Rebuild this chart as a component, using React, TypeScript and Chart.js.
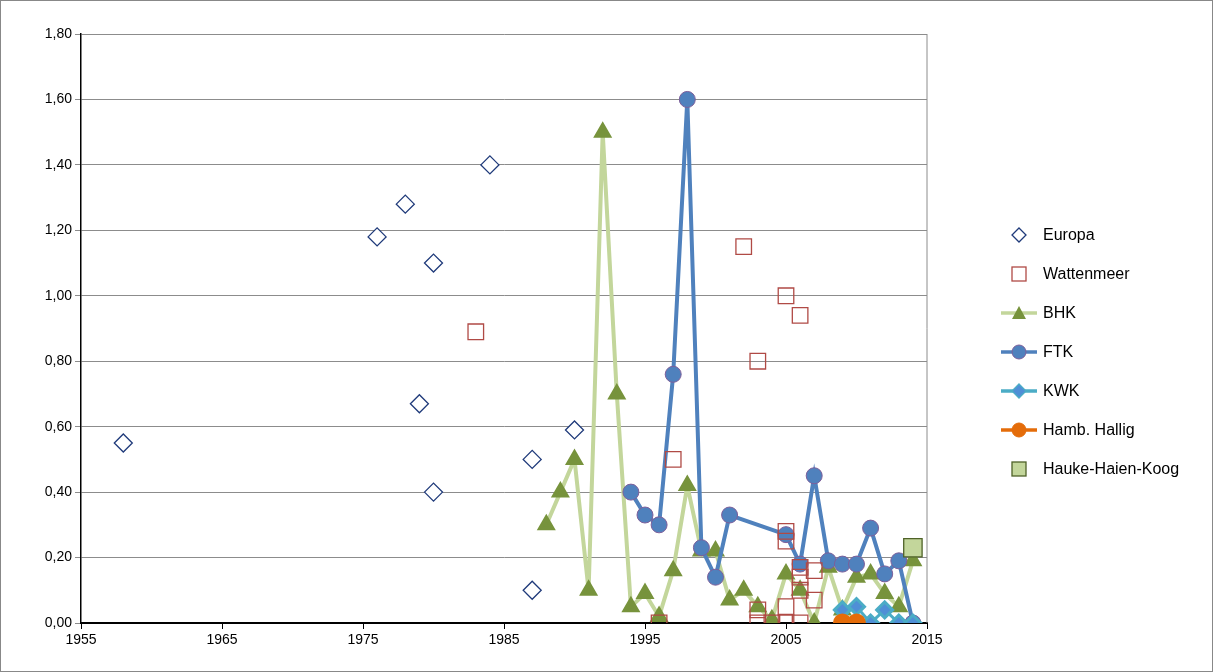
import React, { useEffect, useRef } from "react";
import Chart from "chart.js/auto";

const europaX = [1958, 1976, 1978, 1979, 1980, 1980, 1984, 1987, 1987, 1990];
const europaY = [0.55, 1.18, 1.28, 0.67, 1.1, 0.4, 1.4, 0.5, 0.1, 0.59];

const wattX = [1983, 1996, 1997, 2002, 2003, 2003, 2003, 2004, 2005, 2005, 2005, 2005, 2005, 2006, 2006, 2006, 2006, 2006, 2007, 2007];
const wattY = [0.89, 0.0, 0.5, 1.15, 0.8, 0.04, 0.0, 0.0, 1.0, 0.28, 0.25, 0.05, 0.0, 0.94, 0.17, 0.14, 0.1, 0.0, 0.16, 0.07];

const bhkX = [1988, 1989, 1990, 1991, 1992, 1993, 1994, 1995, 1996, 1997, 1998, 1999, 2000, 2001, 2002, 2003, 2004, 2005, 2006, 2007, 2008, 2009, 2010, 2011, 2012, 2013, 2014];
const bhkY = [0.3, 0.4, 0.5, 0.1, 1.5, 0.7, 0.05, 0.09, 0.02, 0.16, 0.42, 0.22, 0.22, 0.07, 0.1, 0.05, 0.01, 0.15, 0.1, 0.0, 0.17, 0.04, 0.14, 0.15, 0.09, 0.05, 0.19];

const ftkX = [1994, 1995, 1996, 1997, 1998, 1999, 2000, 2001, 2005, 2006, 2007, 2008, 2009, 2010, 2011, 2012, 2013, 2014];
const ftkY = [0.4, 0.33, 0.3, 0.76, 1.6, 0.23, 0.14, 0.33, 0.27, 0.18, 0.45, 0.19, 0.18, 0.18, 0.29, 0.15, 0.19, 0.0];

const kwkX = [2009, 2010, 2011, 2012, 2013, 2014];
const kwkY = [0.04, 0.05, 0.0, 0.04, 0.0, 0.0];

const hambX = [2009, 2010];
const hambY = [0.0, 0.0];

const haukeX = [2014];
const haukeY = [0.23];

const pts = (xs: number[], ys: number[]) => xs.map((x, i) => ({ x, y: ys[i] }));

type LegendItem = { label: string; kind: string; line?: string; fill: string; stroke: string };
const legendItems: LegendItem[] = [
  { label: "Europa", kind: "diamond", fill: "#fff", stroke: "#1f3a7a" },
  { label: "Wattenmeer", kind: "square", fill: "#fff", stroke: "#b04a45" },
  { label: "BHK", kind: "triangle", line: "#c3d69b", fill: "#77933c", stroke: "#77933c" },
  { label: "FTK", kind: "circle", line: "#4f81bd", fill: "#4f81bd", stroke: "#7d5f9a" },
  { label: "KWK", kind: "diamond", line: "#4bacc6", fill: "#4f8fd6", stroke: "#4bacc6" },
  { label: "Hamb. Hallig", kind: "circle", line: "#e46c0a", fill: "#e46c0a", stroke: "#e46c0a" },
  { label: "Hauke-Haien-Koog", kind: "square", fill: "#c3d69b", stroke: "#4f6228" },
];

function Marker({ it }: { it: LegendItem }) {
  const c = 18;
  let shape: React.ReactNode = null;
  if (it.kind === "diamond") shape = <polygon points={`${c},4 ${c + 7},11 ${c},18 ${c - 7},11`} fill={it.fill} stroke={it.stroke} strokeWidth={1.3} />;
  if (it.kind === "square") shape = <rect x={c - 7} y={4} width={14} height={14} fill={it.fill} stroke={it.stroke} strokeWidth={1.3} />;
  if (it.kind === "triangle") shape = <polygon points={`${c},4 ${c + 7},17 ${c - 7},17`} fill={it.fill} />;
  if (it.kind === "circle") shape = <circle cx={c} cy={11} r={7} fill={it.fill} stroke={it.stroke} strokeWidth={1} />;
  return (
    <svg width={36} height={22}>
      {it.line && <line x1={0} y1={11} x2={36} y2={11} stroke={it.line} strokeWidth={3.5} />}
      {shape}
    </svg>
  );
}

export default function App() {
  const ref = useRef<HTMLCanvasElement | null>(null);

  useEffect(() => {
    document.body.style.margin = "0";
    if (!ref.current) return;
    const chart = new Chart(ref.current, {
      type: "scatter",
      data: {
        datasets: [
          { label: "Europa", data: pts(europaX, europaY), pointStyle: "rectRot", pointRadius: 9, backgroundColor: "#fff", borderColor: "#1f3a7a", borderWidth: 1.3, showLine: false },
          { label: "Wattenmeer", data: pts(wattX, wattY), pointStyle: "rect", pointRadius: 11, backgroundColor: "rgba(255,255,255,0)", borderColor: "#b04a45", borderWidth: 1.3, showLine: false },
          { label: "BHK", data: pts(bhkX, bhkY), showLine: true, borderColor: "#c3d69b", borderWidth: 4, pointStyle: "triangle", pointRadius: 7, pointBackgroundColor: "#77933c", pointBorderColor: "#77933c", order: 3 },
          { label: "FTK", data: pts(ftkX, ftkY), showLine: true, borderColor: "#4f81bd", borderWidth: 4, pointStyle: "circle", pointRadius: 8, pointBackgroundColor: "#4f81bd", pointBorderColor: "#7d5f9a", pointBorderWidth: 1, order: 2 },
          { label: "KWK", data: pts(kwkX, kwkY), showLine: true, borderColor: "#4bacc6", borderWidth: 3, pointStyle: "rectRot", pointRadius: 8, pointBackgroundColor: "#4f8fd6", pointBorderColor: "#4bacc6", order: 1 },
          { label: "Hamb. Hallig", data: pts(hambX, hambY), showLine: true, borderColor: "#e46c0a", borderWidth: 3, pointStyle: "circle", pointRadius: 8, pointBackgroundColor: "#e46c0a", pointBorderColor: "#e46c0a", order: 0 },
          { label: "Hauke-Haien-Koog", data: pts(haukeX, haukeY), showLine: false, pointStyle: "rect", pointRadius: 13, backgroundColor: "#c3d69b", borderColor: "#4f6228", borderWidth: 1.3, order: 0 },
        ],
      },
      options: {
        animation: false,
        responsive: false,
        layout: { padding: { left: 8, top: 33, right: 285, bottom: 0 } },
        plugins: { legend: { display: false }, tooltip: { enabled: false } },
        scales: {
          x: {
            type: "linear",
            min: 1955,
            max: 2015,
            ticks: { stepSize: 10, color: "#000", font: { family: "Liberation Sans", size: 14 }, callback: (v) => String(v) },
            grid: { drawOnChartArea: false, color: "#000", tickLength: 6 },
            border: { color: "#000", width: 2 },
            afterFit: (s) => { s.height = 48; },
          },
          y: {
            min: 0,
            max: 1.8,
            ticks: { stepSize: 0.2, color: "#000", font: { family: "Liberation Sans", size: 14 }, callback: (v) => Number(v).toFixed(2).replace(".", ",") },
            grid: { color: "#8c8c8c", tickLength: 6 },
            border: { color: "#000", width: 1.5 },
            afterFit: (s) => { s.width = 72; },
          },
        },
      },
      plugins: [{
        id: "frame",
        afterDraw: (c) => {
          const { ctx, chartArea: a } = c;
          ctx.save();
          ctx.strokeStyle = "#8c8c8c";
          ctx.lineWidth = 1;
          ctx.beginPath();
          ctx.moveTo(a.right, a.top);
          ctx.lineTo(a.right, a.bottom);
          ctx.stroke();
          ctx.restore();
        },
      }],
    });
    return () => chart.destroy();
  }, []);

  return (
    <div style={{ position: "relative", width: 1213, height: 672, boxSizing: "border-box", border: "1px solid #888", fontFamily: "Liberation Sans" }}>
      <canvas ref={ref} width={1211} height={670} style={{ display: "block" }} />
      <div style={{ position: "absolute", left: 1000, top: 214 }}>
        {legendItems.map((it) => (
          <div key={it.label} style={{ display: "flex", alignItems: "center", height: 39, fontSize: 16 }}>
            <Marker it={it} />
            <span style={{ marginLeft: 6 }}>{it.label}</span>
          </div>
        ))}
      </div>
    </div>
  );
}
